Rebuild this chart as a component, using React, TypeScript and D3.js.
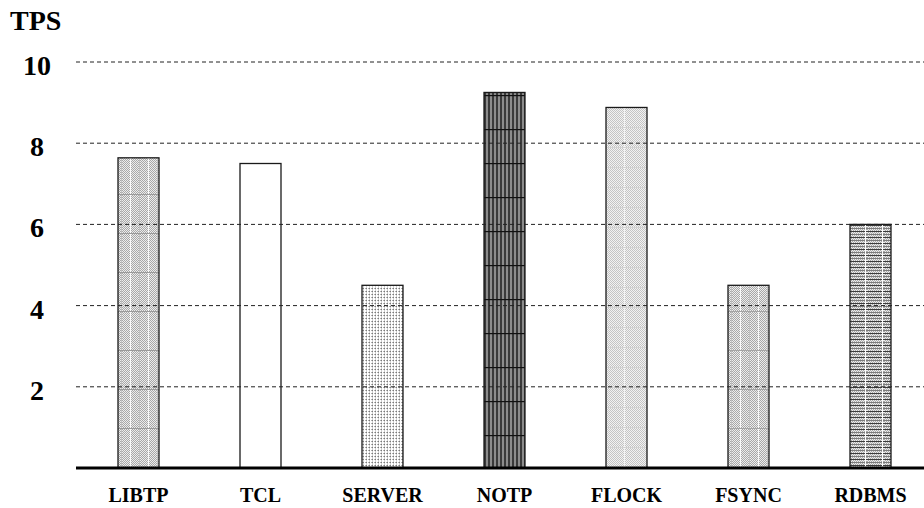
import React from 'react';
import * as d3 from 'd3';

const categories = ['LIBTP', 'TCL', 'SERVER', 'NOTP', 'FLOCK', 'FSYNC', 'RDBMS'];
const tps = [7.64, 7.5, 4.5, 9.25, 8.88, 4.5, 6.0];
const patternIds = ['pLibtp', 'none', 'pServer', 'pNotp', 'pFlock', 'pFsync', 'pRdbms'];
const yTicks = [2, 4, 6, 8, 10];

const W = 924;
const H = 508;
const left = 76;
const base = 468;

const App: React.FC = () => {
  const x = d3
    .scaleBand<string>()
    .domain(categories)
    .range([77.5, 931.5])
    .paddingInner(0.664)
    .paddingOuter(0.332);
  const y = d3.scaleLinear().domain([0, 10]).range([base, 62]);

  const font = '"Liberation Serif", "Times New Roman", serif';

  return (
    <svg
      width={W}
      height={H}
      style={{ display: 'block', position: 'absolute', left: 0, top: 0 }}
    >
      <defs>
        {/* fine checker used as a base for several fills */}
        <pattern id="chk" width={2} height={2} patternUnits="userSpaceOnUse">
          <rect width={2} height={2} fill="#ececec" />
          <rect width={1} height={1} fill="#a8a8a8" />
          <rect x={1} y={1} width={1} height={1} fill="#a8a8a8" />
        </pattern>
        <pattern id="chkLight" width={2} height={2} patternUnits="userSpaceOnUse">
          <rect width={2} height={2} fill="#f2f2f2" />
          <rect width={1} height={1} fill="#c4c4c4" />
          <rect x={1} y={1} width={1} height={1} fill="#c4c4c4" />
        </pattern>
        <pattern id="pLibtp" width={18} height={39} patternUnits="userSpaceOnUse" x={118} y={0}>
          <rect width={18} height={39} fill="url(#chk)" />
          <rect x={12} width={1} height={39} fill="#ffffff" opacity={0.9} />
          <rect x={3} width={1} height={39} fill="#c0c0c0" />
          <rect y={38} width={18} height={1} fill="#9a9a9a" />
        </pattern>
        <pattern id="pFsync" width={18} height={39} patternUnits="userSpaceOnUse" x={728} y={0}>
          <rect width={18} height={39} fill="url(#chk)" />
          <rect x={12} width={1} height={39} fill="#ffffff" opacity={0.9} />
          <rect x={3} width={1} height={39} fill="#c0c0c0" />
          <rect y={38} width={18} height={1} fill="#a4a4a4" />
        </pattern>
        <pattern id="pServer" width={3} height={3} patternUnits="userSpaceOnUse">
          <rect width={3} height={3} fill="#ffffff" />
          <rect width={1} height={3} fill="#d0d0d0" />
          <rect width={1} height={1} fill="#7a7a7a" />
          <rect x={2} y={0} width={1} height={1} fill="#b0b0b0" />
        </pattern>
        <pattern id="pNotp" width={4} height={34} patternUnits="userSpaceOnUse" x={484} y={95}>
          <rect width={4} height={34} fill="#8c8c8c" />
          <rect width={2} height={34} fill="#3a3a3a" />
          <rect y={0} width={4} height={1.2} fill="#111111" />
        </pattern>
        <pattern id="pFlock" width={28} height={20} patternUnits="userSpaceOnUse" x={606} y={108}>
          <rect width={28} height={20} fill="url(#chkLight)" />
          <rect x={18} width={1} height={20} fill="#f4f4f4" />
          <rect y={19} width={28} height={1} fill="#d2d2d2" />
        </pattern>
        <pattern id="pRdbms" width={17} height={6} patternUnits="userSpaceOnUse" x={850} y={225}>
          <rect width={17} height={6} fill="url(#chk)" />
          <rect y={0} width={17} height={1} fill="#3c3c3c" />
          <rect y={3} width={17} height={1} fill="#7c7c7c" />
          <rect x={15} width={1} height={6} fill="#ffffff" />
        </pattern>
      </defs>

      <rect width={W} height={H} fill="#ffffff" />

      {/* bars */}
      {categories.map((c, i) => (
        <rect
          key={c}
          x={x(c)}
          y={y(tps[i])}
          width={x.bandwidth()}
          height={base - y(tps[i])}
          fill={patternIds[i] === 'none' ? '#ffffff' : `url(#${patternIds[i]})`}
          stroke="#1a1a1a"
          strokeWidth={1.3}
        />
      ))}

      {/* gridlines, drawn over the bars */}
      {yTicks.map((t) => (
        <line
          key={t}
          x1={left}
          x2={W}
          y1={y(t)}
          y2={y(t)}
          stroke="#222"
          strokeWidth={1}
          strokeDasharray="4,3"
        />
      ))}

      {/* baseline */}
      <line x1={left} x2={W} y1={base} y2={base} stroke="#000" strokeWidth={3} />

      {/* y tick labels */}
      {yTicks.map((t) => (
        <text
          key={t}
          x={37}
          y={y(t) + 13}
          textAnchor="middle"
          fontFamily={font}
          fontWeight="bold"
          fontSize={28}
        >
          {t}
        </text>
      ))}

      <text x={10} y={30} fontFamily={font} fontWeight="bold" fontSize={28}>
        TPS
      </text>

      {/* category labels */}
      {categories.map((c) => (
        <text
          key={c}
          x={(x(c) ?? 0) + x.bandwidth() / 2}
          y={502}
          textAnchor="middle"
          fontFamily={font}
          fontWeight="bold"
          fontSize={20}
        >
          {c}
        </text>
      ))}
    </svg>
  );
};

export default App;
